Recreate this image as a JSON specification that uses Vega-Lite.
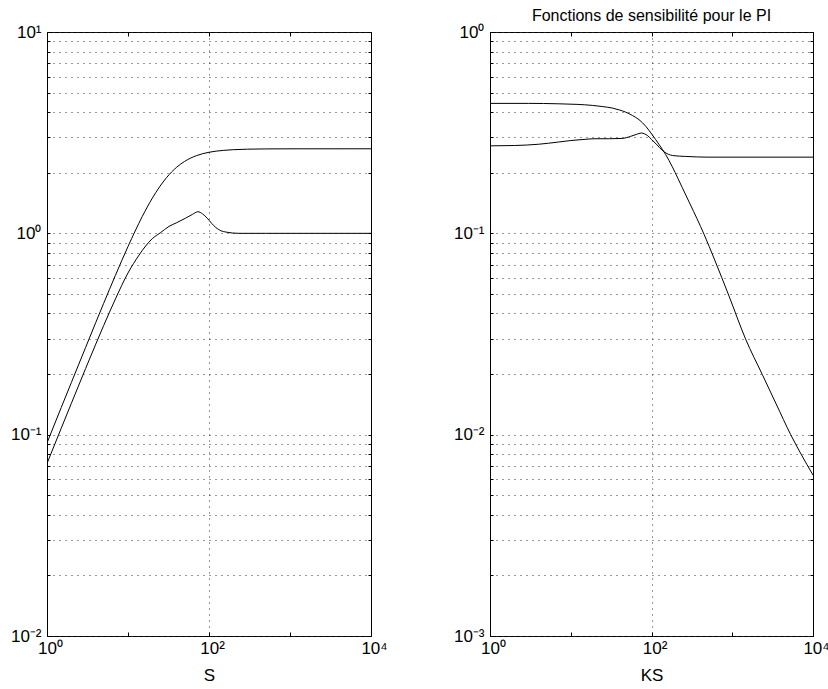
{
  "$schema": "https://vega.github.io/schema/vega-lite/v6.json",
  "background": "white",
  "autosize": {"type": "pad"},
  "padding": {"left": 9, "top": 7, "right": 10, "bottom": 0},
  "bounds": "flush",
  "spacing": 119,
  "datasets": {
    "left": [
      {"s": "a", "x": 1, "y": 0.091}, {"s": "a", "x": 1.5, "y": 0.1365}, {"s": "a", "x": 2, "y": 0.1816}, {"s": "a", "x": 3, "y": 0.2715}, {"s": "a", "x": 4, "y": 0.3606}, {"s": "a", "x": 5, "y": 0.4485}, {"s": "a", "x": 7, "y": 0.619}, {"s": "a", "x": 10, "y": 0.86}, {"s": "a", "x": 15, "y": 1.212}, {"s": "a", "x": 20, "y": 1.497}, {"s": "a", "x": 30, "y": 1.894}, {"s": "a", "x": 40, "y": 2.132}, {"s": "a", "x": 50, "y": 2.277}, {"s": "a", "x": 70, "y": 2.431}, {"s": "a", "x": 100, "y": 2.527}, {"s": "a", "x": 150, "y": 2.582}, {"s": "a", "x": 200, "y": 2.603}, {"s": "a", "x": 300, "y": 2.618}, {"s": "a", "x": 500, "y": 2.626}, {"s": "a", "x": 1000, "y": 2.629}, {"s": "a", "x": 10000, "y": 2.63},
      {"s": "b", "x": 1, "y": 0.0719}, {"s": "b", "x": 1.5, "y": 0.1077}, {"s": "b", "x": 2, "y": 0.1432}, {"s": "b", "x": 3, "y": 0.2133}, {"s": "b", "x": 4, "y": 0.2817}, {"s": "b", "x": 5, "y": 0.3479}, {"s": "b", "x": 7, "y": 0.4723}, {"s": "b", "x": 10, "y": 0.6357}, {"s": "b", "x": 13.7, "y": 0.78}, {"s": "b", "x": 16.5, "y": 0.865}, {"s": "b", "x": 19.9, "y": 0.94}, {"s": "b", "x": 25, "y": 1.005}, {"s": "b", "x": 32.1, "y": 1.083}, {"s": "b", "x": 40, "y": 1.13}, {"s": "b", "x": 51.5, "y": 1.19}, {"s": "b", "x": 62, "y": 1.24}, {"s": "b", "x": 73, "y": 1.28}, {"s": "b", "x": 83, "y": 1.25}, {"s": "b", "x": 95, "y": 1.19}, {"s": "b", "x": 108, "y": 1.12}, {"s": "b", "x": 121, "y": 1.07}, {"s": "b", "x": 140, "y": 1.03}, {"s": "b", "x": 161, "y": 1.015}, {"s": "b", "x": 234, "y": 1.0}, {"s": "b", "x": 500, "y": 1.0}, {"s": "b", "x": 10000, "y": 1.0}
    ],
    "right": [
      {"s": "a", "x": 1, "y": 0.442}, {"s": "a", "x": 3, "y": 0.442}, {"s": "a", "x": 7, "y": 0.44}, {"s": "a", "x": 12, "y": 0.437}, {"s": "a", "x": 18.5, "y": 0.432}, {"s": "a", "x": 25, "y": 0.426}, {"s": "a", "x": 32.7, "y": 0.419}, {"s": "a", "x": 40, "y": 0.41}, {"s": "a", "x": 47.9, "y": 0.4}, {"s": "a", "x": 58, "y": 0.385}, {"s": "a", "x": 70, "y": 0.367}, {"s": "a", "x": 85, "y": 0.34}, {"s": "a", "x": 102, "y": 0.309}, {"s": "a", "x": 125, "y": 0.275}, {"s": "a", "x": 150, "y": 0.246}, {"s": "a", "x": 180, "y": 0.215}, {"s": "a", "x": 213, "y": 0.187}, {"s": "a", "x": 240, "y": 0.169}, {"s": "a", "x": 300, "y": 0.14}, {"s": "a", "x": 447, "y": 0.099}, {"s": "a", "x": 600, "y": 0.0745}, {"s": "a", "x": 912, "y": 0.0488}, {"s": "a", "x": 1466, "y": 0.0298}, {"s": "a", "x": 2355, "y": 0.0199}, {"s": "a", "x": 3500, "y": 0.0142}, {"s": "a", "x": 5296, "y": 0.01}, {"s": "a", "x": 7000, "y": 0.0081}, {"s": "a", "x": 10000, "y": 0.0063},
      {"s": "b", "x": 1, "y": 0.272}, {"s": "b", "x": 2, "y": 0.273}, {"s": "b", "x": 4, "y": 0.277}, {"s": "b", "x": 7, "y": 0.284}, {"s": "b", "x": 10, "y": 0.289}, {"s": "b", "x": 15, "y": 0.293}, {"s": "b", "x": 20, "y": 0.295}, {"s": "b", "x": 30, "y": 0.295}, {"s": "b", "x": 43, "y": 0.296}, {"s": "b", "x": 55, "y": 0.303}, {"s": "b", "x": 65, "y": 0.31}, {"s": "b", "x": 75, "y": 0.315}, {"s": "b", "x": 82, "y": 0.312}, {"s": "b", "x": 90, "y": 0.305}, {"s": "b", "x": 100, "y": 0.293}, {"s": "b", "x": 117, "y": 0.275}, {"s": "b", "x": 135, "y": 0.259}, {"s": "b", "x": 155, "y": 0.249}, {"s": "b", "x": 190, "y": 0.243}, {"s": "b", "x": 265, "y": 0.241}, {"s": "b", "x": 500, "y": 0.239}, {"s": "b", "x": 10000, "y": 0.239}
    ]
  },
  "hconcat": [
    {
      "width": 324,
      "height": 604,
      "data": {"name": "left"},
      "layer": [
        {
          "mark": {"type": "line", "color": "black", "strokeWidth": 1, "interpolate": "monotone", "clip": true},
          "encoding": {
            "x": {"field": "x", "type": "quantitative", "scale": {"type": "log", "domain": [1, 10000], "nice": false},
              "axis": {"orient": "bottom", "values": [1, 10, 100, 1000, 10000], "labelExpr": "datum.value == 1 ? '10⁰' : datum.value == 100 ? '10²' : datum.value == 10000 ? '10⁴' : ''", "title": "S", "grid": true, "gridOpacity": {"condition": {"test": "datum.value == 100", "value": 1}, "value": 0}, "tickSize": -4, "labelPadding": 8, "labelOffset": 3, "titlePadding": 11, "labelOverlap": false, "labelFlush": false, "labelBound": false}},
            "y": {"field": "y", "type": "quantitative", "scale": {"type": "log", "domain": [0.01, 10], "nice": false},
              "axis": {"orient": "left", "values": [0.01, 0.02, 0.03, 0.04, 0.05, 0.06, 0.07, 0.08, 0.09, 0.1, 0.2, 0.3, 0.4, 0.5, 0.6, 0.7, 0.8, 0.9, 1, 2, 3, 4, 5, 6, 7, 8, 9, 10], "labelExpr": "datum.value == 10 ? '10¹' : datum.value == 1 ? '10⁰' : datum.value == 0.1 ? '10⁻¹' : datum.value == 0.01 ? '10⁻²' : ''", "title": null, "grid": true, "tickSize": -3, "labelPadding": 9, "labelOverlap": false, "labelFlush": false, "labelBound": false}},
            "detail": {"field": "s"}
          }
        },
        {
          "mark": {"type": "line", "strokeOpacity": 0},
          "encoding": {
            "x": {"field": "x", "type": "quantitative", "scale": {"type": "log", "domain": [1, 10000], "nice": false},
              "axis": {"orient": "top", "values": [1, 10, 100, 1000, 10000], "labels": false, "title": null, "grid": false, "tickSize": -4}},
            "y": {"field": "y", "type": "quantitative", "scale": {"type": "log", "domain": [0.01, 10], "nice": false},
              "axis": {"orient": "right", "values": [0.01, 0.02, 0.03, 0.04, 0.05, 0.06, 0.07, 0.08, 0.09, 0.1, 0.2, 0.3, 0.4, 0.5, 0.6, 0.7, 0.8, 0.9, 1, 2, 3, 4, 5, 6, 7, 8, 9, 10], "labels": false, "title": null, "grid": false, "tickSize": -3}},
            "detail": {"field": "s"}
          }
        }
      ],
      "resolve": {"axis": {"x": "independent", "y": "independent"}}
    },
    {
      "width": 323,
      "height": 604,
      "data": {"name": "right"},
      "title": {"text": "Fonctions de sensibilité pour le PI", "fontSize": 16, "font": "Liberation Sans", "fontWeight": "normal", "color": "black", "offset": -14, "baseline": "alphabetic"},
      "layer": [
        {
          "mark": {"type": "line", "color": "black", "strokeWidth": 1, "interpolate": "monotone", "clip": true},
          "encoding": {
            "x": {"field": "x", "type": "quantitative", "scale": {"type": "log", "domain": [1, 10000], "nice": false},
              "axis": {"orient": "bottom", "values": [1, 10, 100, 1000, 10000], "labelExpr": "datum.value == 1 ? '10⁰' : datum.value == 100 ? '10²' : datum.value == 10000 ? '10⁴' : ''", "title": "KS", "grid": true, "gridOpacity": {"condition": {"test": "datum.value == 100", "value": 1}, "value": 0}, "tickSize": -4, "labelPadding": 8, "labelOffset": 3, "titlePadding": 11, "labelOverlap": false, "labelFlush": false, "labelBound": false}},
            "y": {"field": "y", "type": "quantitative", "scale": {"type": "log", "domain": [0.001, 1], "nice": false},
              "axis": {"orient": "left", "values": [0.001, 0.002, 0.003, 0.004, 0.005, 0.006, 0.007, 0.008, 0.009, 0.01, 0.02, 0.03, 0.04, 0.05, 0.06, 0.07, 0.08, 0.09, 0.1, 0.2, 0.3, 0.4, 0.5, 0.6, 0.7, 0.8, 0.9, 1], "labelExpr": "datum.value == 1 ? '10⁰' : datum.value == 0.1 ? '10⁻¹' : datum.value == 0.01 ? '10⁻²' : datum.value == 0.001 ? '10⁻³' : ''", "title": null, "grid": true, "tickSize": -3, "labelPadding": 9, "labelOverlap": false, "labelFlush": false, "labelBound": false}},
            "detail": {"field": "s"}
          }
        },
        {
          "mark": {"type": "line", "strokeOpacity": 0},
          "encoding": {
            "x": {"field": "x", "type": "quantitative", "scale": {"type": "log", "domain": [1, 10000], "nice": false},
              "axis": {"orient": "top", "values": [1, 10, 100, 1000, 10000], "labels": false, "title": null, "grid": false, "tickSize": -4}},
            "y": {"field": "y", "type": "quantitative", "scale": {"type": "log", "domain": [0.001, 1], "nice": false},
              "axis": {"orient": "right", "values": [0.001, 0.002, 0.003, 0.004, 0.005, 0.006, 0.007, 0.008, 0.009, 0.01, 0.02, 0.03, 0.04, 0.05, 0.06, 0.07, 0.08, 0.09, 0.1, 0.2, 0.3, 0.4, 0.5, 0.6, 0.7, 0.8, 0.9, 1], "labels": false, "title": null, "grid": false, "tickSize": -3}},
            "detail": {"field": "s"}
          }
        }
      ],
      "resolve": {"axis": {"x": "independent", "y": "independent"}}
    }
  ],
  "config": {
    "view": {"stroke": "black", "strokeWidth": 1},
    "axis": {"labelFont": "Liberation Sans", "titleFont": "Liberation Sans", "labelFontSize": 17, "titleFontSize": 17, "titleFontWeight": "normal", "labelColor": "black", "titleColor": "black", "domain": false, "tickColor": "black", "gridColor": "#333333", "gridDash": [1, 5], "gridWidth": 1, "gridOpacity": 1}
  }
}
